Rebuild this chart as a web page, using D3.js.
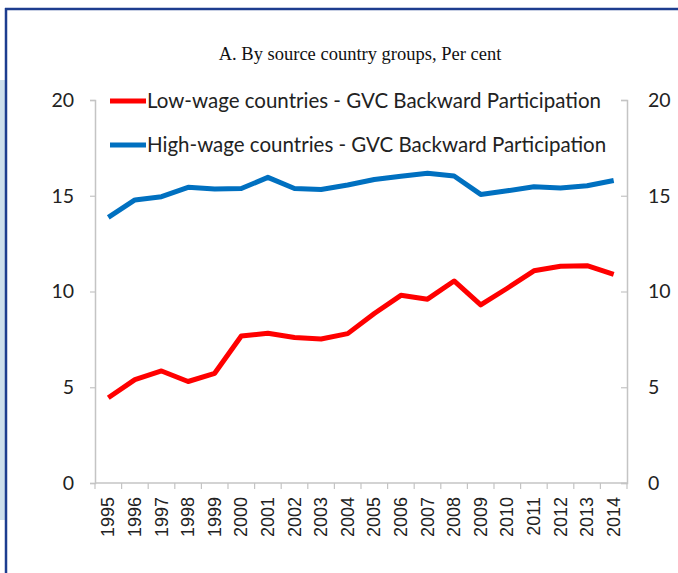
<!DOCTYPE html>
<html>
<head>
<meta charset="utf-8">
<script src="https://cdn.jsdelivr.net/npm/d3@7"></script>
<style>
  body { margin: 0; background: #fff; }
  svg { display: block; }
</style>
</head>
<body>
<svg id="svg" width="678" height="573"></svg>
<script>
// data
const years = [1995, 1996, 1997, 1998, 1999, 2000, 2001, 2002, 2003, 2004,
               2005, 2006, 2007, 2008, 2009, 2010, 2011, 2012, 2013, 2014];
const lowWage = [4.45, 5.4, 5.85, 5.3, 5.73, 7.68, 7.82, 7.6, 7.52, 7.8,
                 8.85, 9.8, 9.6, 10.55, 9.3, 10.17, 11.08, 11.32, 11.35, 10.9];
const highWage = [13.87, 14.78, 14.95, 15.44, 15.35, 15.38, 15.96, 15.38, 15.33, 15.56,
                  15.85, 16.02, 16.17, 16.03, 15.07, 15.26, 15.47, 15.4, 15.52, 15.8];
const yTicks = [0, 5, 10, 15, 20];
const seriesNames = [
  'Low-wage countries - GVC Backward Participation',
  'High-wage countries - GVC Backward Participation'
];
const seriesColors = ['#ff0000', '#0070c0'];
const title = 'A. By source country groups, Per cent';

const svg = d3.select('#svg');
const W = 678, H = 573;
const mLeft = 95, mRight = 627, mTop = 100, mBottom = 483;

// frame of the original figure
svg.append('rect').attr('x', 0).attr('y', 80).attr('width', 5).attr('height', 440)
  .attr('fill', '#cddfec');
svg.append('line').attr('x1', 6).attr('x2', 6).attr('y1', 8).attr('y2', H)
  .attr('stroke', '#1d3d8f').attr('stroke-width', 2.5);
svg.append('line').attr('x1', 5).attr('x2', W).attr('y1', 9).attr('y2', 9)
  .attr('stroke', '#1d3d8f').attr('stroke-width', 2.5);

// title
svg.append('text')
  .attr('x', 360).attr('y', 60)
  .attr('text-anchor', 'middle')
  .style('font-family', '"Liberation Serif", "Times New Roman", serif')
  .style('font-size', '18.5px')
  .attr('fill', '#111')
  .text(title);

const x = d3.scaleBand().domain(years).range([mLeft, mRight]);
const y = d3.scaleLinear().domain([0, 20]).range([mBottom, mTop]);

const axisColor = '#c4c4c4';
const labelFont = 'Lato, "Open Sans", sans-serif';

// left axis
const gl = svg.append('g').attr('transform', `translate(${mLeft},0)`)
  .call(d3.axisLeft(y).tickValues(yTicks).tickSize(5).tickPadding(16));
// right axis
const gr = svg.append('g').attr('transform', `translate(${mRight},0)`)
  .call(d3.axisRight(y).tickValues(yTicks).tickSize(-6).tickPadding(21));
[gl, gr].forEach(g => {
  g.select('.domain').attr('stroke', axisColor).attr('stroke-width', 1.5);
  g.selectAll('.tick line').attr('stroke', axisColor).attr('stroke-width', 1.2);
  g.selectAll('.tick text')
    .style('font-family', labelFont).style('font-size', '19.5px').attr('fill', '#222');
});

// bottom axis: ticks at category boundaries, labels rotated
const gb = svg.append('g').attr('transform', `translate(0,${mBottom})`);
gb.append('line').attr('x1', mLeft).attr('x2', mRight)
  .attr('stroke', axisColor).attr('stroke-width', 1.5);
const bounds = years.map(d => x(d)).concat([x(years[years.length - 1]) + x.bandwidth()]);
gb.selectAll('.xtick').data(bounds).join('line')
  .attr('x1', d => d).attr('x2', d => d).attr('y1', 0).attr('y2', 6)
  .attr('stroke', axisColor).attr('stroke-width', 1.2);
gb.selectAll('.xlab').data(years).join('text')
  .attr('transform', d => `translate(${x(d) + x.bandwidth() / 2 + 6},14) rotate(-90)`)
  .attr('text-anchor', 'end')
  .style('font-family', '"Liberation Sans", Arial, sans-serif')
  .style('font-size', '18px')
  .attr('fill', '#222')
  .text(d => d);

// lines
const line = d3.line()
  .x((d, i) => x(years[i]) + x.bandwidth() / 2)
  .y(d => y(d));
[lowWage, highWage].forEach((s, k) => {
  svg.append('path')
    .attr('d', line(s))
    .attr('fill', 'none')
    .attr('stroke', seriesColors[k])
    .attr('stroke-width', 5)
    .attr('stroke-linejoin', 'round');
});

// legend
const lg = svg.append('g');
seriesNames.forEach((name, k) => {
  const ly = 101 + k * 44;
  lg.append('line').attr('x1', 110).attr('x2', 146).attr('y1', ly).attr('y2', ly)
    .attr('stroke', seriesColors[k]).attr('stroke-width', 5);
  lg.append('text').attr('x', 147).attr('y', ly + 7)
    .style('font-family', labelFont).style('font-size', '20.5px')
    .attr('fill', '#222')
    .text(name);
});
</script>
</body>
</html>
